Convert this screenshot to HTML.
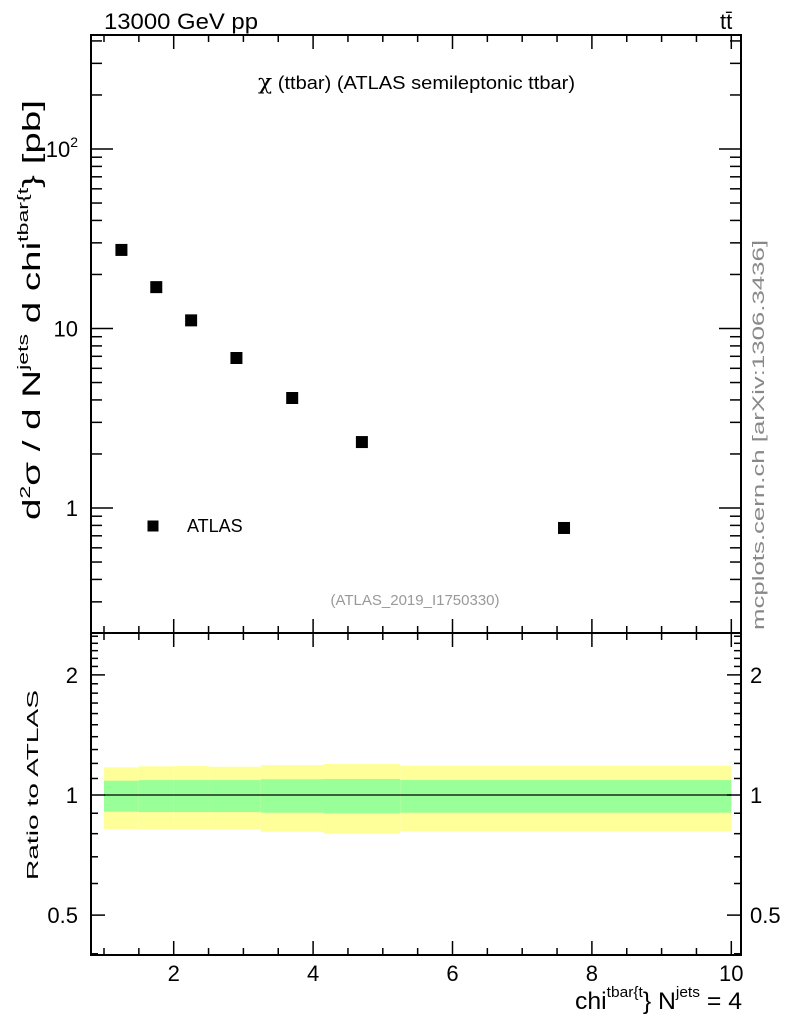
<!DOCTYPE html>
<html><head><meta charset="utf-8">
<style>
html,body{margin:0;padding:0;background:#fff;}
svg{display:block;font-family:"Liberation Sans",sans-serif;}
</style></head>
<body>
<svg id="c" width="786" height="1024" viewBox="0 0 786 1024" xmlns="http://www.w3.org/2000/svg">
<text x="104" y="29" font-size="22" textLength="154" lengthAdjust="spacingAndGlyphs">13000 GeV pp</text>
<text x="720" y="29" font-size="22">tt̄</text>
<text x="258" y="89" font-size="18" textLength="317" lengthAdjust="spacingAndGlyphs"><tspan font-family="'DejaVu Serif',serif" font-size="21">χ</tspan> (ttbar) (ATLAS semileptonic ttbar)</text>
<text x="415" y="605" font-size="15" fill="#999" text-anchor="middle">(ATLAS_2019_I1750330)</text>
<text transform="translate(764,630) rotate(-90)" font-size="17" fill="#888" textLength="390" lengthAdjust="spacingAndGlyphs">mcplots.cern.ch [arXiv:1306.3436]</text>
<text transform="translate(40,520) rotate(-90)" font-size="25" textLength="420" lengthAdjust="spacingAndGlyphs">d<tspan font-size="15" dy="-10">2</tspan><tspan dy="10">σ /  d N</tspan><tspan font-size="15" dy="-12">jets</tspan><tspan dy="12"> d chi</tspan><tspan font-size="15" dy="-12">tbar{t</tspan><tspan dy="12">} [pb]</tspan></text>
<text transform="translate(38,880) rotate(-90)" font-size="16" textLength="190" lengthAdjust="spacingAndGlyphs">Ratio to ATLAS</text>
<text x="575" y="1009" font-size="24" textLength="167" lengthAdjust="spacingAndGlyphs">chi<tspan font-size="15" dy="-12">tbar{t</tspan><tspan dy="12">} N</tspan><tspan font-size="15" dy="-12">jets</tspan><tspan dy="12"> = 4</tspan></text>
<rect x="147.5" y="520.5" width="11" height="11" fill="#000"/>
<text x="187" y="532" font-size="18">ATLAS</text>
<g id="bands"></g><g id="marks"></g><g id="axes"></g>
</svg>
<script>
const xCenters=[1.25,1.75,2.25,2.9,3.7,4.7,7.6];
const atlasValues=[27.4,17.0,11.1,6.85,4.1,2.33,0.774];
const binEdges=[1,1.5,2,2.5,3.25,4.15,5.25,10];
const statUp=[1.086,1.09,1.09,1.09,1.095,1.097,1.09];
const statDown=[0.908,0.906,0.906,0.906,0.903,0.900,0.903];
const totUp=[1.173,1.18,1.182,1.177,1.189,1.196,1.184];
const totDown=[0.822,0.82,0.82,0.82,0.809,0.800,0.812];
const xTickLabels=[2,4,6,8,10];
const ratioTickLabels=[0.5,1,2];

const NS="http://www.w3.org/2000/svg";
const L=91,R=741,T=35,MB=633,B=955;
const X=v=>104+(v-1)*69.7;
const Y=v=>508-Math.log10(v)*179.5;
const RY=v=>795-Math.log10(v)*399;
function mk(p,t,a){const e=document.createElementNS(NS,t);for(const k in a)e.setAttribute(k,a[k]);document.getElementById(p).appendChild(e);return e;}
for(let i=0;i<binEdges.length-1;i++){
  const x0=X(binEdges[i]),x1=X(binEdges[i+1]);
  let r=mk('bands','rect',{x:x0,y:RY(totUp[i]),width:x1-x0,height:RY(totDown[i])-RY(totUp[i]),fill:'#ffff99'});
  
  
  r=mk('bands','rect',{x:x0,y:RY(statUp[i]),width:x1-x0,height:RY(statDown[i])-RY(statUp[i]),fill:'#99ff99'});
  
  
}
let ln=mk('bands','line',{x1:X(1),x2:X(10),y1:RY(1),y2:RY(1),stroke:'#000','stroke-width':1.3});


xCenters.forEach((c,i)=>{
  const p=mk('marks','rect',{x:X(c)-6,y:Y(atlasValues[i])-6,width:12,height:12,fill:'#000'});
  
  
});
let f=mk('axes','rect',{x:L,y:T,width:R-L,height:MB-T,fill:'none',stroke:'#000','stroke-width':2});


f=mk('axes','rect',{x:L,y:MB,width:R-L,height:B-MB,fill:'none',stroke:'#000','stroke-width':2});


function tick(x1,y1,x2,y2){const t=mk('axes','line',{x1,y1,x2,y2,stroke:'#000','stroke-width':1.5});}
for(let v=1;v<=10.01;v+=0.5){const x=X(v),maj=Math.abs(v-Math.round(v))<0.01&&Math.round(v)%2==0,len=maj?14:7;
  [[T,1],[MB,-1],[MB,1],[B,-1]].forEach(([y,d])=>tick(x,y,x,y+d*len));}
xTickLabels.forEach(v=>{const t=mk('axes','text',{x:X(v),y:981,'font-size':22,'text-anchor':'middle'});t.textContent=v;});
for(let d=-1;d<=2;d++)for(let m=1;m<=9;m++){const v=m*Math.pow(10,d),y=Y(v);if(y<T||y>MB)continue;const len=m==1?22:11;tick(L,y,L+len,y);tick(R,y,R-len,y);}
[[1,'1'],[10,'10']].forEach(([v,s])=>{const t=mk('axes','text',{x:78,y:Y(v)+8,'font-size':22,'text-anchor':'end'});t.textContent=s;});
let t2=mk('axes','text',{x:78,y:Y(100)+8,'font-size':22,'text-anchor':'end'});t2.innerHTML='10<tspan font-size="14" dy="-10">2</tspan>';


for(let v=0.4;v<=2.55;v+=0.1){const y=RY(v);if(y<MB||y>B)continue;const maj=[0.5,1,2].some(m=>Math.abs(m-v)<0.01),len=maj?14:7;if(v>1.01&&Math.abs(v*10-Math.round(v*10))>0.01)continue;tick(L,y,L+len,y);tick(R,y,R-len,y);}
ratioTickLabels.forEach(v=>{[[78,'end'],[750,'start']].forEach(([x,a])=>{const t=mk('axes','text',{x,y:RY(v)+8,'font-size':22,'text-anchor':a});t.textContent=v;});});
</script>
</body></html>
